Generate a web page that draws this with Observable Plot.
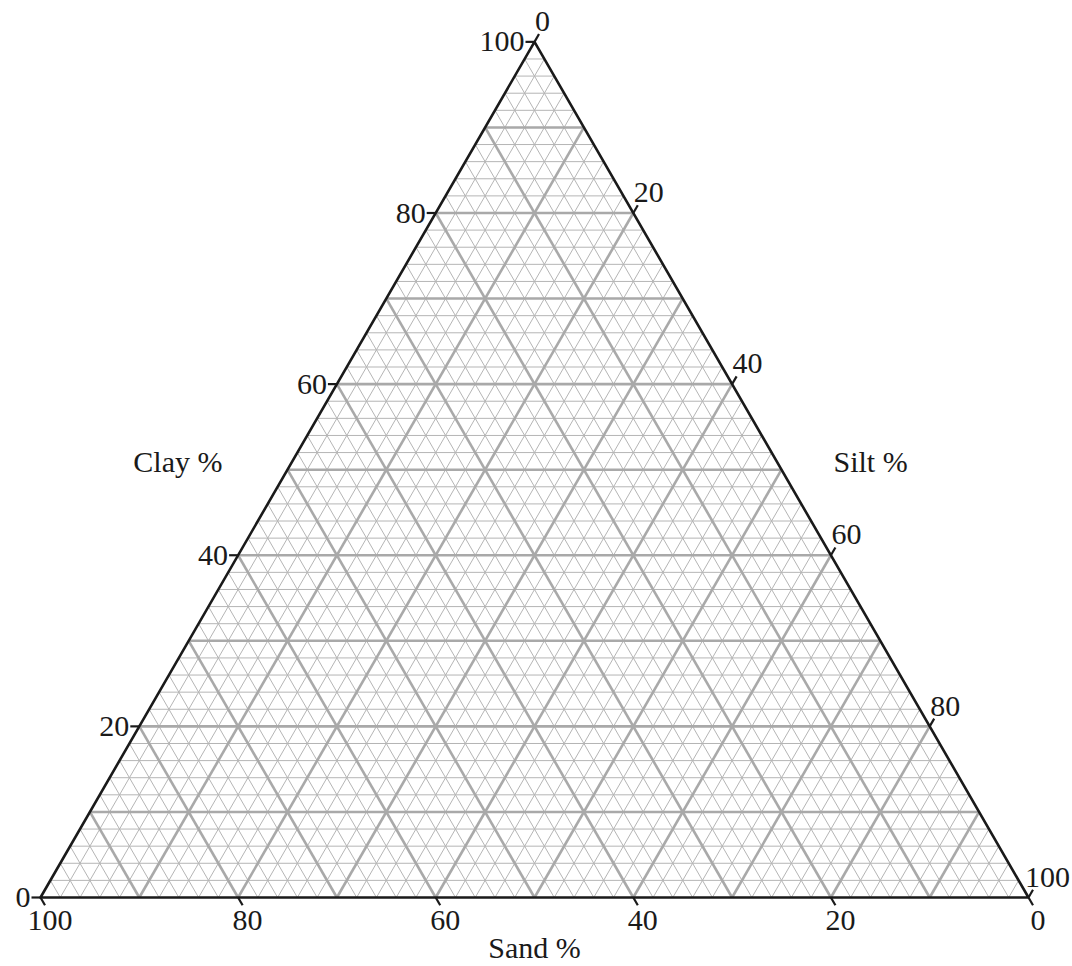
<!DOCTYPE html>
<html>
<head>
<meta charset="utf-8">
<script src="https://cdn.jsdelivr.net/npm/d3@7"></script>
<script src="https://cdn.jsdelivr.net/npm/@observablehq/plot@0.6"></script>
<style>
  html, body { margin: 0; padding: 0; background: #fff; }
  #chart svg { display: block; }
</style>
</head>
<body>
<div id="chart"></div>
<script>
// ---- data ----
const gridSteps = d3.range(2, 100, 2);           // grid every 2 %
const majorEvery = 10;                           // heavier line every 10 %
const tickValues = [0, 20, 40, 60, 80, 100];     // labelled ticks
const axisTitles = ["Sand %", "Silt %", "Clay %"];

const H = Math.sqrt(3) / 2;
// ternary -> cartesian (fractions): x = silt + clay/2, y = clay*H
const tx = (silt, clay) => silt + clay / 2;
const ty = (clay) => clay * H;

const lines = [];
for (const p of gridSteps) {
  const f = p / 100;
  const major = p % majorEvery === 0;
  // constant clay
  lines.push({major, x1: tx(0, f), y1: ty(f), x2: tx(1 - f, f), y2: ty(f)});
  // constant sand = f
  lines.push({major, x1: tx(1 - f, 0), y1: ty(0), x2: tx(0, 1 - f), y2: ty(1 - f)});
  // constant silt = f
  lines.push({major, x1: tx(f, 0), y1: ty(0), x2: tx(f, 1 - f), y2: ty(1 - f)});
}
const minor = lines.filter(d => !d.major);
const majors = lines.filter(d => d.major);

const outline = [
  {x: tx(0, 0), y: ty(0)},
  {x: tx(1, 0), y: ty(0)},
  {x: tx(0, 1), y: ty(1)},
  {x: tx(0, 0), y: ty(0)}
];

const W = 1072, SVGH = 966;
const mL = 40, mR = 44, mB = 69;
const pxPerUnit = (W - mL - mR);
const mT = SVGH - mB - pxPerUnit * H;
const L = 9 / pxPerUnit; // tick length in data units

// ticks
const clayTicks = tickValues.map(v => {
  const f = v / 100;
  const x = tx(0, f), y = ty(f);
  return {v, x1: x, y1: y, x2: x - L, y2: y};
});
const sandTicks = tickValues.map(v => {
  const f = v / 100; // sand = f on bottom: silt = 1-f
  const x = tx(1 - f, 0), y = ty(0);
  return {v, x1: x, y1: y, x2: x + L * 0.5, y2: y - L * H};
});
const siltTicks = tickValues.map(v => {
  const f = v / 100; // silt = f on right edge: clay = 1-f
  const x = tx(f, 1 - f), y = ty(1 - f);
  return {v, x1: x, y1: y, x2: x + L * 0.5, y2: y + L * H};
});

const font = "'Liberation Serif', 'Times New Roman', serif";
const fs = 30;

const plot = Plot.plot({
  width: W,
  height: SVGH,
  marginLeft: mL,
  marginRight: mR,
  marginTop: mT,
  marginBottom: mB,
  x: {domain: [0, 1], axis: null},
  y: {domain: [0, H], axis: null},
  style: {fontFamily: font, background: "#fff"},
  marks: [
    Plot.link(minor, {x1: "x1", y1: "y1", x2: "x2", y2: "y2", stroke: "#b5b5b5", strokeWidth: 1}),
    Plot.link(majors, {x1: "x1", y1: "y1", x2: "x2", y2: "y2", stroke: "#a9a9a9", strokeWidth: 2.6}),
    Plot.line(outline, {x: "x", y: "y", stroke: "#1a1a1a", strokeWidth: 2.6, strokeLinejoin: "miter"}),
    Plot.link([...clayTicks, ...sandTicks, ...siltTicks], {x1: "x1", y1: "y1", x2: "x2", y2: "y2", stroke: "#1a1a1a", strokeWidth: 2.2}),
    // clay labels (left)
    Plot.text(clayTicks, {x: "x2", y: "y2", text: d => String(d.v), textAnchor: "end", dx: -1, dy: 0, fontSize: fs, fill: "#1a1a1a", lineAnchor: "middle"}),
    // sand labels (bottom)
    Plot.text(sandTicks, {x: "x2", y: "y2", text: d => String(d.v), textAnchor: "middle", dx: 5, dy: 3, fontSize: fs, fill: "#1a1a1a", lineAnchor: "top"}),
    // silt labels (right)
    Plot.text(siltTicks.filter(d => d.v !== 100), {x: "x2", y: "y2", text: d => String(d.v), textAnchor: "start", dx: -4, dy: -3, fontSize: fs, fill: "#1a1a1a", lineAnchor: "bottom"}),
    Plot.text(siltTicks.filter(d => d.v === 100), {x: "x2", y: "y2", text: d => String(d.v), textAnchor: "end", dx: 37, dy: -3, fontSize: fs, fill: "#1a1a1a", lineAnchor: "bottom"}),
    // axis titles
    Plot.text([axisTitles[0]], {x: 0.5, y: 0, text: d => d, textAnchor: "middle", dy: 51, fontSize: fs, fill: "#1a1a1a", lineAnchor: "middle"}),
    Plot.text([axisTitles[1]], {x: tx(0.5, 0.5), y: ty(0.5), text: d => d, textAnchor: "start", dx: 52, dy: -7, fontSize: fs, fill: "#1a1a1a", lineAnchor: "middle"}),
    Plot.text([axisTitles[2]], {x: tx(0, 0.5), y: ty(0.5), text: d => d, textAnchor: "end", dx: -65, dy: -7, fontSize: fs, fill: "#1a1a1a", lineAnchor: "middle"})
  ]
});
document.getElementById("chart").appendChild(plot);
</script>
</body>
</html>
